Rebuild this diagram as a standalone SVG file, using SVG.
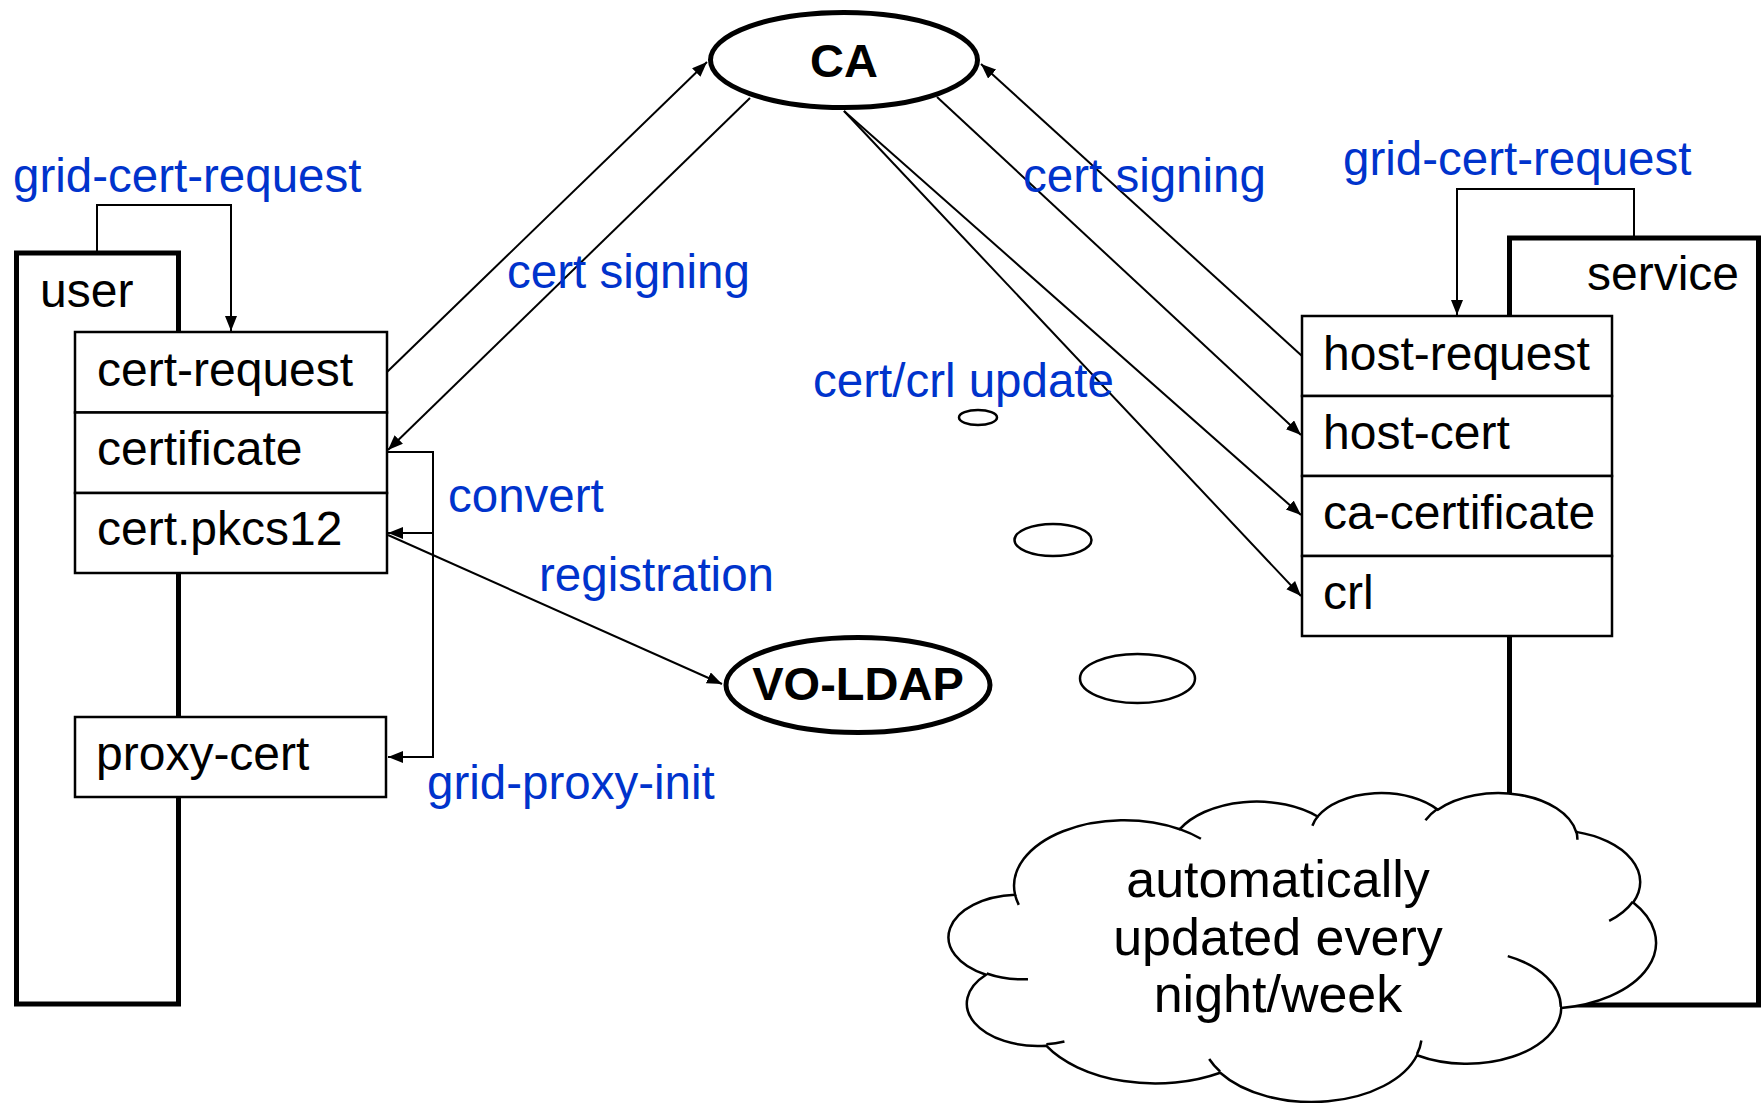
<svg xmlns="http://www.w3.org/2000/svg" width="1762" height="1103" viewBox="0 0 1762 1103">
<defs>
<marker id="arr" markerUnits="userSpaceOnUse" markerWidth="16" markerHeight="13" refX="15" refY="6" orient="auto">
<path d="M0,0 L15,6 L0,12 z" fill="#000"/>
</marker>
<style>
text{font-family:"Liberation Sans",Arial,sans-serif;font-size:48px;fill:#000}
.lbl{fill:#0033cc;font-size:47.5px}
.bold{font-weight:bold;font-size:47px}
.cloudtxt{font-size:52px;text-anchor:middle}
.frame{fill:#fff;stroke:#000;stroke-width:5}
.cell{fill:#fff;stroke:#000;stroke-width:2.5}
.oval{fill:#fff;stroke:#000;stroke-width:5}
.small{fill:#fff;stroke:#000;stroke-width:2.5}
.conn{fill:none;stroke:#000;stroke-width:2}
.arrow{marker-end:url(#arr)}
.cloud{fill:#fff;stroke:#000;stroke-width:2.5}
.cloudline{fill:none;stroke:#000;stroke-width:2.5}
</style>
</defs>
<rect width="1762" height="1103" fill="#fff"/>

<g id="user">
<rect class="frame" x="16.5" y="253" width="162" height="751"/>
<text x="40" y="307">user</text>
</g>

<g id="service">
<rect class="frame" x="1509.5" y="238" width="249" height="767"/>
<text x="1587" y="290">service</text>
</g>

<g id="connectors">
<polyline class="conn arrow" points="97,253 97,205 231,205 231,331"/>
<polyline class="conn arrow" points="1634,238 1634,189 1457,189 1457,315"/>
<line class="conn arrow" x1="387" y1="372" x2="707" y2="62"/>
<line class="conn arrow" x1="750" y1="98" x2="388" y2="450"/>
<line class="conn arrow" x1="1302" y1="356" x2="981" y2="64"/>
<line class="conn arrow" x1="937" y1="97" x2="1301" y2="435"/>
<line class="conn arrow" x1="844" y1="111" x2="1301" y2="515"/>
<line class="conn arrow" x1="844" y1="111" x2="1301" y2="596"/>
<polyline class="conn arrow" points="387,452 433,452 433,757 388,757"/>
<polyline class="conn arrow" points="433,533 388,533"/>
<line class="conn arrow" x1="388" y1="535" x2="722" y2="684"/>
</g>

<g id="cert-request">
<rect class="cell" x="75" y="332" width="312" height="80.5"/>
<text x="97" y="386">cert-request</text>
</g>
<g id="certificate">
<rect class="cell" x="75" y="412.5" width="312" height="80.5"/>
<text x="97" y="465">certificate</text>
</g>
<g id="cert-pkcs12">
<rect class="cell" x="75" y="493" width="312" height="80"/>
<text x="97" y="545">cert.pkcs12</text>
</g>
<g id="proxy-cert">
<rect class="cell" x="75" y="717" width="311" height="80"/>
<text x="96" y="770">proxy-cert</text>
</g>

<g id="host-request">
<rect class="cell" x="1302" y="316" width="310" height="80"/>
<text x="1323" y="370">host-request</text>
</g>
<g id="host-cert">
<rect class="cell" x="1302" y="396" width="310" height="80"/>
<text x="1323" y="449">host-cert</text>
</g>
<g id="ca-certificate">
<rect class="cell" x="1302" y="476" width="310" height="80"/>
<text x="1323" y="529">ca-certificate</text>
</g>
<g id="crl">
<rect class="cell" x="1302" y="556" width="310" height="80"/>
<text x="1323" y="609">crl</text>
</g>

<g id="CA">
<ellipse class="oval" cx="844" cy="60" rx="133.5" ry="47.5"/>
<text class="bold" x="844" y="77" text-anchor="middle">CA</text>
</g>

<g id="VO-LDAP">
<ellipse class="oval" cx="858" cy="685" rx="132" ry="47.5"/>
<text class="bold" x="858" y="700" text-anchor="middle">VO-LDAP</text>
</g>

<g id="bubbles">
<ellipse class="small" cx="978" cy="417.5" rx="19" ry="7.5"/>
<ellipse class="small" cx="1053" cy="540" rx="38.5" ry="16"/>
<ellipse class="small" cx="1137.5" cy="678.5" rx="57.5" ry="24.5"/>
</g>

<g id="cloud">
<path class="cloud" d="M1015.07,894.75 A110.07,65.71 0 0 1 1179.79,829.20 A86.92,51.96 0 0 1 1317.58,816.54 A71.15,42.51 0 0 1 1437.83,809.74 A79.16,47.15 0 0 1 1576.13,831.88 A86.92,52.00 0 0 1 1633.19,902.55 A110.43,65.92 0 0 1 1561.23,1007.95 A94.29,56.25 0 0 1 1417.01,1055.21 A110.05,65.89 0 0 1 1220.20,1072.75 A125.83,75.38 0 0 1 1046.19,1045.64 A71.06,42.31 0 0 1 986.02,974.70 A70.82,42.51 0 0 1 1015.07,894.75 Z"/>
<path class="cloudline" d="M1027.99,979.17 A70.82,42.51 0 0 1 986.70,973.46 M1064.42,1041.53 A71.06,42.31 0 0 1 1046.36,1044.26 M1220.08,1071.49 A110.05,65.89 0 0 1 1209.18,1059.04 M1421.36,1040.47 A110.05,65.89 0 0 1 1417.02,1054.12 M1507.78,956.12 A94.29,56.25 0 0 1 1560.78,1007.14 M1632.78,901.78 A86.92,52.00 0 0 1 1609.17,920.92 M1576.15,830.80 A79.16,47.15 0 0 1 1577.40,839.83 M1425.45,820.26 A79.16,47.15 0 0 1 1437.54,808.74 M1312.39,825.75 A71.15,42.51 0 0 1 1318.24,815.81 M1179.69,829.12 A110.07,65.71 0 0 1 1200.91,838.78 M1018.78,904.89 A110.07,65.71 0 0 1 1015.08,894.75"/>
<text class="cloudtxt" x="1278" y="897">automatically</text>
<text class="cloudtxt" x="1278" y="955">updated every</text>
<text class="cloudtxt" x="1278" y="1012">night/week</text>
</g>

<g id="labels">
<text class="lbl" x="13" y="192">grid-cert-request</text>
<text class="lbl" x="1343" y="175">grid-cert-request</text>
<text class="lbl" x="507" y="288">cert signing</text>
<text class="lbl" x="1023" y="192">cert signing</text>
<text class="lbl" x="813" y="397">cert/crl update</text>
<text class="lbl" x="448" y="512">convert</text>
<text class="lbl" x="539" y="591">registration</text>
<text class="lbl" x="427" y="799">grid-proxy-init</text>
</g>
</svg>
